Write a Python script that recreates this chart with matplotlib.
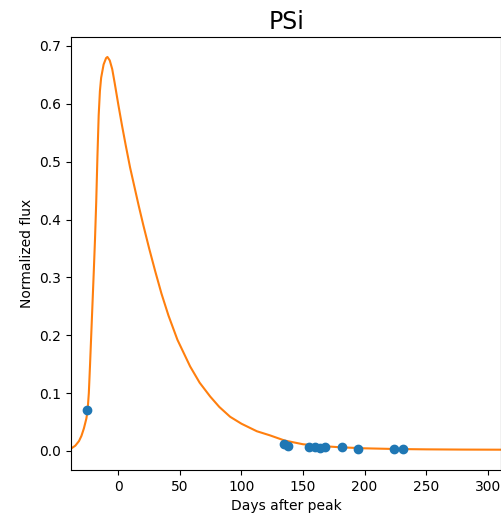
import matplotlib
matplotlib.use("Agg")
import matplotlib.pyplot as plt

# model light curve
curve_days = [-38.5, -35, -32, -30, -28, -26, -25, -24, -23, -22, -21, -20,
              -19, -18, -17, -16, -15, -14, -12, -10, -8.9, -7, -5, -3, 0,
              3, 6, 9.5, 13, 16.5, 20.3, 25, 30, 35, 40.7, 48, 58.3, 66,
              74.6, 82, 90.8, 100, 112.5, 123, 135, 150, 165, 180, 200,
              225, 250, 280, 311]
curve_flux = [0.004, 0.009, 0.017, 0.026, 0.039, 0.056, 0.070, 0.100, 0.150,
              0.203, 0.256, 0.309, 0.365, 0.43, 0.51, 0.58, 0.622, 0.645,
              0.668, 0.679, 0.681, 0.675, 0.66, 0.636, 0.598, 0.562, 0.528,
              0.49, 0.457, 0.424, 0.39, 0.35, 0.31, 0.272, 0.234, 0.192,
              0.146, 0.118, 0.094, 0.076, 0.059, 0.047, 0.034, 0.027, 0.018,
              0.0115, 0.0085, 0.0063, 0.0045, 0.0033, 0.0027, 0.0023, 0.0021]

# observed points
obs_days = [-25.3, 134.5, 137.5, 154.5, 160.0, 164.0, 167.5, 181.5, 194.5,
            224.0, 231.5]
obs_flux = [0.070, 0.0115, 0.009, 0.0065, 0.0065, 0.0048, 0.0075, 0.0075,
            0.004, 0.004, 0.004]

fig = plt.figure(figsize=(5.02, 5.19), dpi=100)
ax = fig.add_axes([0.1414, 0.0944, 0.857, 0.8343])

ax.plot(curve_days, curve_flux, color="#ff7f0e", lw=1.5)
ax.plot(obs_days, obs_flux, "o", color="#1f77b4", ms=6)

ax.set_xlim(-38.5, 311)
ax.set_ylim(-0.033, 0.7155)
ax.set_xticks([0, 50, 100, 150, 200, 250, 300])
ax.set_yticks([0.0, 0.1, 0.2, 0.3, 0.4, 0.5, 0.6, 0.7])

ax.set_title("PSi", fontsize=17)
ax.set_xlabel("Days after peak", fontsize=10)
ax.set_ylabel("Normalized flux", fontsize=10)
ax.tick_params(labelsize=10)

fig.savefig("out.png", dpi=100)
